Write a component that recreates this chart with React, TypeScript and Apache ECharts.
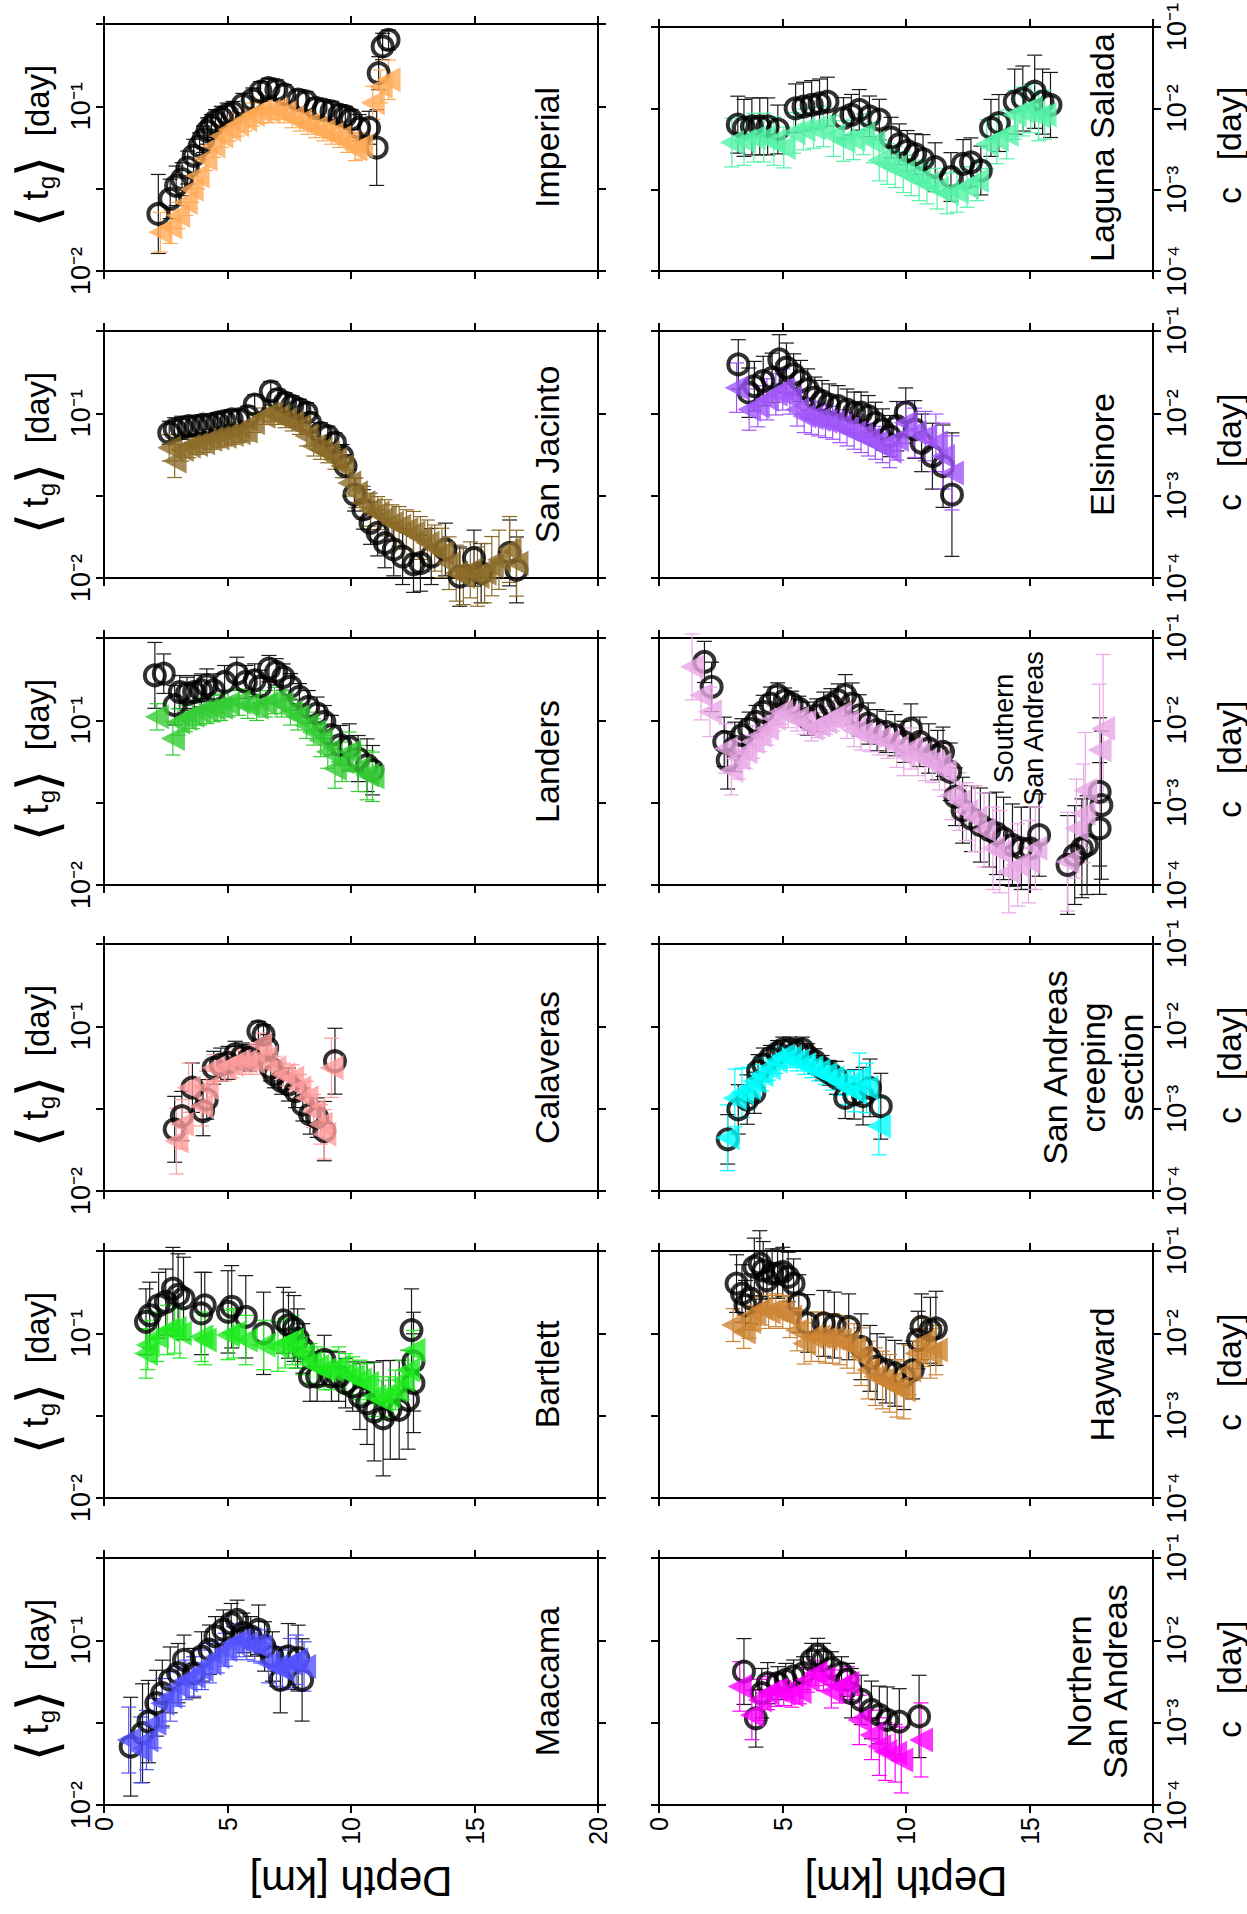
import React, { useEffect, useRef } from 'react';
import * as echarts from 'echarts';

// Each point: [depth (km), value (day), error-bar half width (decades)]
type Pt = [number, number, number];

// ---------------- Left column (⟨tg⟩) ----------------
const imperialCircles: Pt[] = [
  [2.2, 0.0222, 0.24], [2.68, 0.0274, 0.12], [2.92, 0.0329, 0.12], [3.16, 0.0361, 0.1], [3.39, 0.0425, 0.1],
  [3.63, 0.0501, 0.1], [3.87, 0.0574, 0.08], [4.03, 0.0631, 0.08], [4.19, 0.0708, 0.08], [4.35, 0.0759, 0.07],
  [4.51, 0.0813, 0.07], [4.75, 0.0851, 0.07], [4.99, 0.0891, 0.07], [5.23, 0.0912, 0.07], [5.62, 0.102, 0.07],
  [6.02, 0.11, 0.07], [6.34, 0.123, 0.06], [6.66, 0.129, 0.06], [6.98, 0.126, 0.06], [7.3, 0.118, 0.06],
  [7.86, 0.11, 0.06], [8.18, 0.107, 0.06], [8.57, 0.0977, 0.06], [8.89, 0.0955, 0.06], [9.21, 0.0933, 0.06],
  [9.53, 0.0891, 0.06], [9.77, 0.0871, 0.06], [10.0, 0.0832, 0.06], [10.33, 0.0741, 0.08], [10.73, 0.0741, 0.1],
  [11.04, 0.0562, 0.23], [11.12, 0.159, 0.1], [11.28, 0.231, 0.08], [11.52, 0.253, 0.06],
];
const imperialTriangles: Pt[] = [
  [2.28, 0.0172, 0.12], [2.68, 0.0185, 0.1], [3.0, 0.0217, 0.08], [3.31, 0.0261, 0.08], [3.55, 0.0314, 0.08],
  [3.79, 0.0378, 0.08], [4.11, 0.0479, 0.07], [4.43, 0.0575, 0.07], [4.75, 0.0661, 0.07], [5.07, 0.0724, 0.07],
  [5.39, 0.0776, 0.07], [5.71, 0.0832, 0.07], [6.02, 0.0891, 0.07], [6.34, 0.0933, 0.07], [6.66, 0.0933, 0.07],
  [6.98, 0.0955, 0.06], [7.3, 0.0912, 0.06], [7.62, 0.0851, 0.06], [7.94, 0.0813, 0.06], [8.25, 0.0776, 0.06],
  [8.57, 0.0741, 0.06], [8.89, 0.0708, 0.06], [9.21, 0.0676, 0.06], [9.53, 0.0646, 0.06], [9.85, 0.0603, 0.06],
  [10.17, 0.055, 0.07], [10.41, 0.0575, 0.08], [10.88, 0.105, 0.1], [11.2, 0.132, 0.1], [11.52, 0.145, 0.12],
];

const sanJacintoCircles: Pt[] = [
  [2.64, 0.0762, 0.07], [2.86, 0.08, 0.07], [3.15, 0.0817, 0.07], [3.43, 0.0836, 0.06], [3.72, 0.0836, 0.06],
  [4.01, 0.0855, 0.06], [4.3, 0.0855, 0.06], [4.59, 0.0877, 0.06], [4.88, 0.0897, 0.06], [5.17, 0.0918, 0.06],
  [5.45, 0.0918, 0.06], [5.82, 0.0962, 0.06], [6.1, 0.113, 0.06], [6.75, 0.136, 0.06], [7.04, 0.122, 0.06],
  [7.33, 0.116, 0.06], [7.62, 0.111, 0.06], [7.91, 0.106, 0.06], [8.2, 0.101, 0.06], [8.34, 0.0877, 0.06],
  [8.77, 0.0762, 0.06], [9.06, 0.0728, 0.06], [9.35, 0.0663, 0.06], [9.64, 0.055, 0.07], [9.78, 0.0478, 0.07],
  [10.14, 0.0321, 0.1], [10.5, 0.0261, 0.12], [10.79, 0.0216, 0.13], [11.08, 0.0188, 0.14], [11.37, 0.0163, 0.15],
  [11.73, 0.0149, 0.16], [12.09, 0.0135, 0.17], [12.53, 0.0121, 0.17], [12.81, 0.0123, 0.17], [13.25, 0.0135, 0.17],
  [13.82, 0.0149, 0.16], [14.4, 0.0102, 0.18], [14.98, 0.0132, 0.17], [15.27, 0.0107, 0.18], [16.42, 0.0142, 0.2],
  [16.7, 0.0112, 0.2],
];
const sanJacintoTriangles: Pt[] = [
  [2.64, 0.0617, 0.08], [2.86, 0.0513, 0.1], [3.15, 0.0603, 0.07], [3.43, 0.0632, 0.07], [3.72, 0.0647, 0.06],
  [4.01, 0.0663, 0.06], [4.3, 0.0694, 0.06], [4.59, 0.071, 0.06], [4.88, 0.0727, 0.06], [5.17, 0.0744, 0.06],
  [5.45, 0.0762, 0.06], [5.74, 0.078, 0.06], [6.03, 0.0877, 0.06], [6.46, 0.096, 0.05], [6.75, 0.1, 0.05],
  [7.04, 0.096, 0.05], [7.33, 0.0918, 0.05], [7.62, 0.0877, 0.05], [7.91, 0.0836, 0.05], [8.2, 0.0728, 0.06],
  [8.49, 0.0632, 0.06], [8.77, 0.0603, 0.06], [9.06, 0.0575, 0.06], [9.35, 0.0525, 0.06], [9.64, 0.0478, 0.07],
  [9.93, 0.0378, 0.08], [10.2, 0.0329, 0.09], [10.5, 0.0286, 0.1], [10.79, 0.026, 0.1], [11.08, 0.0248, 0.1],
  [11.37, 0.0232, 0.11], [11.66, 0.0216, 0.11], [11.95, 0.0206, 0.12], [12.24, 0.0197, 0.12], [12.53, 0.0188, 0.13],
  [12.81, 0.0175, 0.13], [13.1, 0.0163, 0.14], [13.39, 0.0152, 0.14], [13.68, 0.0142, 0.15], [13.97, 0.0123, 0.16],
  [14.26, 0.0107, 0.17], [14.55, 0.0102, 0.17], [14.83, 0.0112, 0.17], [15.12, 0.0102, 0.18], [15.41, 0.0107, 0.18],
  [15.7, 0.0118, 0.18], [15.99, 0.0129, 0.18], [16.42, 0.0149, 0.2], [16.7, 0.0123, 0.2],
];

const landersCircles: Pt[] = [
  [2.06, 0.1875, 0.2], [2.42, 0.192, 0.12], [2.86, 0.1236, 0.12], [3.07, 0.1486, 0.1], [3.36, 0.145, 0.1],
  [3.65, 0.1486, 0.1], [3.94, 0.152, 0.1], [4.16, 0.163, 0.1], [4.44, 0.152, 0.1], [4.88, 0.171, 0.1],
  [5.38, 0.192, 0.1], [5.74, 0.171, 0.1], [6.1, 0.175, 0.1], [6.32, 0.16, 0.1], [6.68, 0.206, 0.08],
  [6.97, 0.197, 0.08], [7.26, 0.183, 0.08], [7.55, 0.16, 0.08], [7.91, 0.139, 0.08], [8.27, 0.1205, 0.1],
  [8.63, 0.11, 0.1], [8.92, 0.0977, 0.1], [9.21, 0.0813, 0.12], [9.57, 0.0706, 0.12], [9.93, 0.069, 0.14],
  [10.29, 0.0586, 0.14], [10.65, 0.0534, 0.16], [10.87, 0.0498, 0.15],
];
const landersTriangles: Pt[] = [
  [2.14, 0.105, 0.08], [2.79, 0.0775, 0.1], [3.0, 0.0977, 0.08], [3.29, 0.1025, 0.08], [3.58, 0.107, 0.08],
  [3.87, 0.1125, 0.08], [4.16, 0.115, 0.08], [4.44, 0.118, 0.08], [4.73, 0.12, 0.08], [5.02, 0.126, 0.08],
  [5.45, 0.129, 0.08], [5.82, 0.1236, 0.08], [6.18, 0.12, 0.08], [6.54, 0.126, 0.08], [6.9, 0.132, 0.08],
  [7.19, 0.126, 0.08], [7.55, 0.1125, 0.08], [7.84, 0.105, 0.08], [8.2, 0.0933, 0.08], [8.49, 0.085, 0.08],
  [8.77, 0.0757, 0.1], [9.06, 0.0644, 0.1], [9.35, 0.051, 0.12], [9.64, 0.056, 0.12], [9.93, 0.0644, 0.12],
  [10.29, 0.051, 0.14], [10.65, 0.0465, 0.15], [10.87, 0.0454, 0.15],
];

const calaverasCircles: Pt[] = [
  [2.86, 0.0237, 0.2], [3.15, 0.0285, 0.15], [3.58, 0.0424, 0.15], [4.01, 0.0306, 0.15], [4.16, 0.036, 0.12],
  [4.44, 0.056, 0.1], [4.73, 0.0586, 0.1], [5.02, 0.06, 0.1], [5.31, 0.0675, 0.08], [5.6, 0.0659, 0.08],
  [5.89, 0.0644, 0.08], [6.25, 0.0933, 0.06], [6.46, 0.089, 0.06], [6.61, 0.074, 0.08], [6.75, 0.056, 0.08],
  [6.9, 0.0509, 0.08], [7.19, 0.0465, 0.08], [7.47, 0.0443, 0.1], [7.76, 0.0404, 0.1], [8.05, 0.0335, 0.1],
  [8.34, 0.0292, 0.12], [8.63, 0.0279, 0.12], [8.92, 0.0231, 0.18], [9.35, 0.0614, 0.2],
];
const calaverasTriangles: Pt[] = [
  [2.93, 0.0201, 0.2], [3.15, 0.0254, 0.15], [3.43, 0.0424, 0.15], [3.94, 0.0327, 0.12], [4.16, 0.0424, 0.1],
  [4.44, 0.056, 0.08], [4.88, 0.056, 0.08], [5.17, 0.0586, 0.08], [5.45, 0.0614, 0.08], [5.74, 0.0614, 0.08],
  [6.03, 0.0614, 0.08], [6.32, 0.0775, 0.07], [6.54, 0.0644, 0.07], [6.9, 0.056, 0.07], [7.26, 0.0509, 0.07],
  [7.62, 0.0486, 0.08], [7.91, 0.0424, 0.08], [8.2, 0.0368, 0.1], [8.49, 0.0306, 0.1], [8.77, 0.0254, 0.12],
  [8.92, 0.0221, 0.15], [9.21, 0.056, 0.18],
];

const bartlettCircles: Pt[] = [
  [1.7, 0.1175, 0.2], [1.85, 0.129, 0.2], [2.21, 0.148, 0.2], [2.5, 0.155, 0.2], [2.79, 0.187, 0.25],
  [3.0, 0.171, 0.25], [3.22, 0.163, 0.25], [3.94, 0.132, 0.25], [4.08, 0.148, 0.2], [5.02, 0.135, 0.25],
  [5.17, 0.145, 0.25], [5.74, 0.126, 0.25], [6.46, 0.1, 0.25], [7.26, 0.12, 0.2], [7.47, 0.112, 0.2],
  [7.69, 0.107, 0.2], [7.84, 0.093, 0.18], [8.05, 0.081, 0.15], [8.34, 0.0546, 0.15], [8.63, 0.0546, 0.15],
  [8.92, 0.0689, 0.15], [9.21, 0.0546, 0.15], [9.5, 0.0546, 0.15], [9.78, 0.0498, 0.15], [10.07, 0.0475, 0.15],
  [10.36, 0.0413, 0.2], [10.65, 0.0376, 0.25], [10.94, 0.0335, 0.3], [11.3, 0.0305, 0.35], [11.59, 0.0343, 0.3],
  [11.95, 0.0343, 0.3], [12.31, 0.0395, 0.3], [12.53, 0.0498, 0.3], [12.53, 0.0673, 0.3], [12.45, 0.1047, 0.25],
];
const bartlettTriangles: Pt[] = [
  [1.7, 0.0755, 0.15], [1.77, 0.085, 0.15], [2.14, 0.0953, 0.15], [2.57, 0.1047, 0.15], [2.86, 0.107, 0.15],
  [3.07, 0.1, 0.15], [3.94, 0.0953, 0.15], [4.08, 0.091, 0.15], [5.02, 0.0977, 0.15], [5.24, 0.1, 0.15],
  [5.74, 0.091, 0.15], [6.46, 0.085, 0.15], [7.04, 0.083, 0.15], [7.33, 0.087, 0.15], [7.62, 0.091, 0.15],
  [7.76, 0.081, 0.12], [8.05, 0.0738, 0.12], [8.34, 0.0657, 0.12], [8.63, 0.0628, 0.12], [8.92, 0.0599, 0.12],
  [9.21, 0.0599, 0.12], [9.5, 0.0628, 0.12], [9.78, 0.0571, 0.12], [10.07, 0.0546, 0.12], [10.36, 0.0521, 0.12],
  [10.65, 0.0498, 0.12], [10.94, 0.0413, 0.12], [11.23, 0.0394, 0.12], [11.52, 0.0413, 0.12], [11.8, 0.0453, 0.12],
  [12.09, 0.0521, 0.12], [12.31, 0.0599, 0.12], [12.53, 0.079, 0.12],
];

const maacamaCircles: Pt[] = [
  [1.08, 0.0226, 0.3], [1.56, 0.0273, 0.3], [1.8, 0.0321, 0.25], [2.12, 0.0415, 0.2], [2.36, 0.0478, 0.2],
  [2.68, 0.0575, 0.2], [3.0, 0.0632, 0.18], [3.24, 0.0762, 0.15], [3.63, 0.0632, 0.15], [3.95, 0.0798, 0.15],
  [4.27, 0.0877, 0.15], [4.51, 0.1057, 0.12], [4.83, 0.116, 0.12], [5.15, 0.127, 0.12], [5.39, 0.133, 0.12],
  [5.63, 0.111, 0.12], [5.94, 0.1057, 0.12], [6.26, 0.116, 0.15], [6.5, 0.0918, 0.15], [6.82, 0.0798, 0.15],
  [7.14, 0.0575, 0.2], [7.46, 0.0798, 0.2], [7.86, 0.078, 0.2], [8.02, 0.0575, 0.25],
];
const maacamaTriangles: Pt[] = [
  [1.0, 0.0248, 0.2], [1.48, 0.0216, 0.2], [1.72, 0.0248, 0.18], [2.04, 0.0314, 0.15], [2.36, 0.0415, 0.15],
  [2.68, 0.0456, 0.15], [3.0, 0.0525, 0.12], [3.31, 0.0575, 0.12], [3.63, 0.0603, 0.12], [3.95, 0.0662, 0.12],
  [4.27, 0.0727, 0.12], [4.59, 0.0798, 0.1], [4.91, 0.0877, 0.1], [5.23, 0.096, 0.1], [5.47, 0.1, 0.1],
  [5.78, 0.096, 0.1], [6.1, 0.094, 0.1], [6.34, 0.0918, 0.1], [6.66, 0.0727, 0.12], [6.98, 0.0694, 0.12],
  [7.22, 0.0662, 0.12], [7.54, 0.0727, 0.15], [7.78, 0.0762, 0.15], [8.1, 0.0694, 0.15],
];

// ---------------- Right column (c) ----------------
const lagunaCircles: Pt[] = [
  [3.19, 0.0063, 0.35], [3.44, 0.00575, 0.35], [3.76, 0.006, 0.35], [4.08, 0.006, 0.35], [4.4, 0.006, 0.35],
  [4.81, 0.0055, 0.3], [5.53, 0.01, 0.3], [5.85, 0.0105, 0.3], [6.18, 0.011, 0.3], [6.5, 0.0115, 0.3],
  [6.82, 0.0121, 0.3], [7.47, 0.0076, 0.25], [7.79, 0.00834, 0.25], [8.11, 0.00957, 0.25], [8.52, 0.00797, 0.25],
  [8.92, 0.00726, 0.25], [9.4, 0.00436, 0.25], [9.73, 0.00362, 0.25], [10.05, 0.003, 0.25], [10.37, 0.00274, 0.25],
  [10.69, 0.00238, 0.3], [11.18, 0.00189, 0.3], [11.82, 0.00143, 0.3], [12.31, 0.00207, 0.3], [12.63, 0.00217, 0.3],
  [13.03, 0.00172, 0.3], [13.44, 0.00575, 0.35], [13.76, 0.0066, 0.35], [14.4, 0.0121, 0.4], [14.73, 0.0132, 0.4],
  [15.21, 0.016, 0.45], [15.53, 0.0121, 0.4], [15.85, 0.011, 0.4],
];
const lagunaTriangles: Pt[] = [
  [2.95, 0.0038, 0.3], [3.44, 0.00397, 0.3], [3.84, 0.00436, 0.3], [4.24, 0.00436, 0.3], [4.65, 0.00397, 0.3],
  [5.05, 0.0033, 0.25], [5.45, 0.005, 0.25], [5.85, 0.0055, 0.25], [6.26, 0.00575, 0.25], [6.66, 0.006, 0.25],
  [7.06, 0.00456, 0.25], [7.47, 0.00397, 0.25], [7.87, 0.00416, 0.25], [8.27, 0.00478, 0.25], [8.68, 0.0038, 0.25],
  [8.92, 0.00228, 0.25], [9.24, 0.00207, 0.25], [9.56, 0.00189, 0.25], [9.89, 0.00164, 0.25], [10.21, 0.0015, 0.25],
  [10.53, 0.0013, 0.25], [10.85, 0.00119, 0.25], [11.26, 0.00103, 0.25], [11.66, 0.0009, 0.25], [12.06, 0.00094, 0.25],
  [12.47, 0.00108, 0.25], [12.87, 0.0013, 0.25], [13.27, 0.00362, 0.3], [13.68, 0.00416, 0.3], [14.08, 0.00478, 0.3],
  [14.4, 0.00834, 0.3], [14.73, 0.00914, 0.3], [15.05, 0.01, 0.3], [15.37, 0.00797, 0.3], [15.61, 0.00834, 0.3],
];

const elsinoreCircles: Pt[] = [
  [3.21, 0.0393, 0.3], [3.64, 0.0178, 0.3], [3.86, 0.0214, 0.3], [4.22, 0.0247, 0.3], [4.58, 0.027, 0.3],
  [4.87, 0.0452, 0.3], [5.16, 0.0358, 0.3], [5.45, 0.0297, 0.25], [5.73, 0.0247, 0.25], [6.02, 0.0195, 0.25],
  [6.31, 0.0155, 0.25], [6.6, 0.0141, 0.25], [6.89, 0.0128, 0.25], [7.25, 0.0122, 0.25], [7.61, 0.0111, 0.25],
  [7.9, 0.0102, 0.25], [8.18, 0.0102, 0.25], [8.47, 0.00925, 0.25], [8.76, 0.00767, 0.25], [9.05, 0.00637, 0.25],
  [9.34, 0.00529, 0.25], [9.63, 0.00698, 0.3], [9.99, 0.0102, 0.3], [10.35, 0.00637, 0.35], [10.63, 0.00438, 0.35],
  [11.07, 0.00302, 0.4], [11.5, 0.00228, 0.5], [11.86, 0.00103, 0.75],
];
const elsinoreTriangles: Pt[] = [
  [3.14, 0.0205, 0.3], [3.65, 0.0111, 0.25], [4.0, 0.0122, 0.25], [4.37, 0.0148, 0.25], [4.73, 0.017, 0.25],
  [5.01, 0.0195, 0.25], [5.3, 0.0155, 0.2], [5.59, 0.0111, 0.2], [5.88, 0.00925, 0.2], [6.17, 0.00883, 0.2],
  [6.46, 0.00843, 0.2], [6.74, 0.00804, 0.2], [7.03, 0.00767, 0.2], [7.32, 0.00698, 0.2], [7.61, 0.00637, 0.2],
  [7.9, 0.0058, 0.2], [8.18, 0.00529, 0.2], [8.47, 0.00481, 0.2], [8.76, 0.00438, 0.2], [9.05, 0.00399, 0.2],
  [9.34, 0.00347, 0.2], [9.63, 0.00481, 0.25], [9.99, 0.00767, 0.25], [10.35, 0.0058, 0.3], [10.78, 0.00529, 0.3],
  [11.21, 0.00438, 0.35], [11.5, 0.00302, 0.4], [11.86, 0.00189, 0.45],
];

const southernCircles: Pt[] = [
  [1.84, 0.0512, 0.25], [2.13, 0.0255, 0.3], [2.64, 0.00548, 0.3], [2.78, 0.00328, 0.35], [3.07, 0.00476, 0.3],
  [3.36, 0.0066, 0.2], [3.65, 0.00794, 0.2], [3.93, 0.00957, 0.2], [4.22, 0.0127, 0.2], [4.51, 0.016, 0.2],
  [4.8, 0.0202, 0.15], [5.09, 0.0175, 0.15], [5.37, 0.016, 0.15], [5.66, 0.0139, 0.15], [6.02, 0.0105, 0.2],
  [6.38, 0.0115, 0.2], [6.67, 0.0139, 0.2], [6.96, 0.0153, 0.2], [7.25, 0.0175, 0.2], [7.54, 0.0202, 0.25],
  [7.82, 0.016, 0.25], [8.11, 0.0115, 0.25], [8.47, 0.00914, 0.25], [8.83, 0.00759, 0.25], [9.19, 0.00724, 0.25],
  [9.55, 0.0066, 0.25], [9.91, 0.00548, 0.25], [10.2, 0.00794, 0.3], [10.56, 0.00548, 0.3], [10.92, 0.00455, 0.3],
  [11.28, 0.00378, 0.3], [11.5, 0.00415, 0.3], [11.79, 0.00237, 0.35], [12.0, 0.00118, 0.35], [12.29, 0.00081, 0.4],
  [12.65, 0.00064, 0.4], [13.01, 0.000535, 0.45], [13.37, 0.000465, 0.45], [13.66, 0.000424, 0.5], [13.95, 0.000368, 0.5],
  [14.31, 0.000305, 0.5], [14.67, 0.000279, 0.5], [15.03, 0.000279, 0.5], [15.39, 0.000404, 0.5], [16.54, 0.000175, 0.6],
  [16.83, 0.000231, 0.6], [17.12, 0.000279, 0.6], [17.33, 0.000305, 0.6], [17.84, 0.000486, 0.8], [17.91, 0.000933, 0.9],
  [17.84, 0.00135, 0.9],
];
const southernTriangles: Pt[] = [
  [1.34, 0.0446, 0.4], [1.7, 0.0202, 0.3], [2.06, 0.0127, 0.3], [2.71, 0.00455, 0.3], [2.93, 0.00248, 0.3],
  [3.21, 0.00344, 0.25], [3.5, 0.00415, 0.2], [3.79, 0.00548, 0.2], [4.08, 0.0066, 0.2], [4.37, 0.00794, 0.2],
  [4.65, 0.0105, 0.15], [4.94, 0.0127, 0.15], [5.23, 0.0115, 0.15], [5.59, 0.0105, 0.15], [5.88, 0.00957, 0.15],
  [6.17, 0.00794, 0.15], [6.46, 0.00873, 0.15], [6.74, 0.00957, 0.15], [7.03, 0.0105, 0.15], [7.32, 0.0121, 0.15],
  [7.61, 0.00957, 0.2], [7.9, 0.00759, 0.2], [8.18, 0.00692, 0.2], [8.54, 0.0066, 0.2], [8.9, 0.00601, 0.2],
  [9.27, 0.00548, 0.2], [9.63, 0.00476, 0.25], [9.91, 0.00378, 0.25], [10.2, 0.00455, 0.25], [10.49, 0.00378, 0.25],
  [10.78, 0.00328, 0.25], [11.07, 0.00313, 0.25], [11.35, 0.00286, 0.3], [11.57, 0.00237, 0.3], [11.86, 0.00124, 0.3],
  [12.15, 0.00103, 0.35], [12.44, 0.00078, 0.35], [12.8, 0.00064, 0.4], [13.16, 0.000465, 0.45], [13.52, 0.000279, 0.5],
  [13.8, 0.000254, 0.5], [14.16, 0.000145, 0.5], [14.52, 0.000175, 0.5], [14.96, 0.000192, 0.5], [15.24, 0.000279, 0.5],
  [16.54, 0.000192, 0.6], [16.9, 0.000486, 0.6], [17.19, 0.00074, 0.6], [17.26, 0.00142, 0.7], [17.84, 0.00435, 0.8],
  [17.98, 0.00794, 0.9],
];

const creepingCircles: Pt[] = [
  [2.78, 0.000424, 0.3], [3.21, 0.00098, 0.3], [3.57, 0.00129, 0.3], [3.86, 0.00156, 0.25], [4.01, 0.00286, 0.2],
  [4.22, 0.00344, 0.2], [4.51, 0.00415, 0.15], [4.8, 0.00476, 0.15], [5.01, 0.00524, 0.15], [5.3, 0.00524, 0.15],
  [5.59, 0.005, 0.15], [5.81, 0.00524, 0.15], [6.02, 0.00435, 0.15], [6.31, 0.00378, 0.15], [6.6, 0.00313, 0.15],
  [6.89, 0.00273, 0.15], [7.18, 0.00237, 0.2], [7.54, 0.00135, 0.25], [7.9, 0.00149, 0.3], [8.26, 0.00142, 0.35],
  [8.54, 0.00179, 0.35], [8.98, 0.00107, 0.4],
];
const creepingTriangles: Pt[] = [
  [2.78, 0.000443, 0.4], [3.07, 0.00135, 0.35], [3.36, 0.00156, 0.3], [3.65, 0.00179, 0.25], [3.86, 0.00216, 0.2],
  [4.15, 0.0026, 0.2], [4.44, 0.00313, 0.15], [4.73, 0.00378, 0.15], [5.01, 0.00435, 0.12], [5.3, 0.00415, 0.12],
  [5.59, 0.00378, 0.12], [5.88, 0.00344, 0.12], [6.17, 0.00313, 0.12], [6.46, 0.00286, 0.12], [6.74, 0.0026, 0.12],
  [7.03, 0.00237, 0.15], [7.32, 0.00206, 0.15], [7.61, 0.00179, 0.2], [7.9, 0.00163, 0.25], [8.11, 0.00237, 0.3],
  [8.4, 0.00179, 0.3], [8.9, 0.000615, 0.35],
];

const haywardCircles: Pt[] = [
  [3.14, 0.0402, 0.35], [3.36, 0.0304, 0.35], [3.5, 0.022, 0.3], [3.72, 0.0264, 0.3], [3.86, 0.064, 0.35],
  [4.08, 0.0702, 0.4], [4.22, 0.0582, 0.35], [4.37, 0.0441, 0.35], [4.58, 0.0531, 0.3], [4.8, 0.0531, 0.3],
  [5.01, 0.0556, 0.3], [5.23, 0.0484, 0.3], [5.45, 0.0402, 0.3], [5.66, 0.023, 0.35], [6.02, 0.0132, 0.35],
  [6.67, 0.0132, 0.4], [7.1, 0.0126, 0.4], [7.68, 0.012, 0.4], [8.18, 0.00687, 0.4], [8.54, 0.00496, 0.4],
  [8.83, 0.00394, 0.4], [9.19, 0.00358, 0.4], [9.55, 0.00327, 0.4], [9.91, 0.00298, 0.4], [10.27, 0.00358, 0.35],
  [10.49, 0.00828, 0.35], [10.63, 0.012, 0.4], [10.99, 0.0109, 0.4], [11.21, 0.0115, 0.45],
];
const haywardTriangles: Pt[] = [
  [3.0, 0.0126, 0.2], [3.43, 0.0104, 0.2], [3.65, 0.0138, 0.2], [3.86, 0.0174, 0.2], [4.15, 0.02, 0.2],
  [4.44, 0.0182, 0.2], [4.73, 0.0191, 0.2], [5.01, 0.0182, 0.2], [5.3, 0.0158, 0.25], [5.59, 0.0109, 0.25],
  [5.88, 0.00753, 0.25], [6.17, 0.00908, 0.3], [6.46, 0.00908, 0.3], [6.74, 0.00867, 0.3], [7.03, 0.00867, 0.3],
  [7.32, 0.00828, 0.3], [7.61, 0.00753, 0.3], [7.9, 0.00656, 0.3], [8.18, 0.0052, 0.35], [8.47, 0.00358, 0.35],
  [8.76, 0.00298, 0.35], [9.05, 0.00271, 0.35], [9.34, 0.00247, 0.35], [9.63, 0.00215, 0.35], [9.91, 0.00205, 0.35],
  [10.13, 0.00358, 0.3], [10.42, 0.0057, 0.3], [10.71, 0.00789, 0.3], [10.99, 0.0057, 0.3], [11.21, 0.00626, 0.3],
];

const northernCircles: Pt[] = [
  [3.44, 0.00418, 0.4], [3.92, 0.00113, 0.35], [4.16, 0.00228, 0.3], [4.4, 0.00302, 0.25], [4.81, 0.00302, 0.2],
  [5.13, 0.00331, 0.2], [5.45, 0.00364, 0.2], [5.85, 0.00399, 0.2], [6.18, 0.0058, 0.2], [6.42, 0.00667, 0.2],
  [6.66, 0.0058, 0.2], [6.98, 0.00459, 0.2], [7.39, 0.00399, 0.2], [7.63, 0.00331, 0.2], [7.79, 0.00228, 0.3],
  [8.19, 0.00189, 0.3], [8.6, 0.00143, 0.35], [8.92, 0.00124, 0.35], [9.24, 0.00108, 0.4], [9.73, 0.00103, 0.4],
  [10.53, 0.00119, 0.5],
];
const northernTriangles: Pt[] = [
  [3.27, 0.00275, 0.3], [3.76, 0.00124, 0.3], [4.08, 0.00189, 0.25], [4.4, 0.00228, 0.2], [4.73, 0.0025, 0.2],
  [5.05, 0.00228, 0.15], [5.37, 0.00218, 0.15], [5.69, 0.00239, 0.15], [6.02, 0.00331, 0.15], [6.34, 0.00399, 0.15],
  [6.66, 0.00347, 0.15], [6.98, 0.00239, 0.2], [7.31, 0.00275, 0.2], [7.63, 0.00302, 0.2], [8.11, 0.00108, 0.3],
  [8.6, 0.00071, 0.3], [8.92, 0.000512, 0.35], [9.16, 0.000446, 0.35], [9.56, 0.000425, 0.35], [9.81, 0.000352, 0.4],
  [10.61, 0.000617, 0.45],
];

// Axis ticks (log10 of day)
const depthTicks = { min: 0, max: 20, interval: 5 };
const tgTicks = { min: -2, max: -0.5, interval: 0.5 };
const cTicks = { min: -4, max: -1, interval: 1 };

interface Panel {
  label: string;
  col: number;
  row: number;
  color: string;
  circles: Pt[];
  triangles: Pt[];
}

const panels: Panel[] = [
  { label: 'Imperial', col: 0, row: 0, color: '#FFAA55', circles: imperialCircles, triangles: imperialTriangles },
  { label: 'San Jacinto', col: 0, row: 1, color: '#8C6B28', circles: sanJacintoCircles, triangles: sanJacintoTriangles },
  { label: 'Landers', col: 0, row: 2, color: '#33CC33', circles: landersCircles, triangles: landersTriangles },
  { label: 'Calaveras', col: 0, row: 3, color: '#FF9C9C', circles: calaverasCircles, triangles: calaverasTriangles },
  { label: 'Bartlett', col: 0, row: 4, color: '#1EEB1E', circles: bartlettCircles, triangles: bartlettTriangles },
  { label: 'Maacama', col: 0, row: 5, color: '#5252FF', circles: maacamaCircles, triangles: maacamaTriangles },
  { label: 'Laguna Salada', col: 1, row: 0, color: '#55F2A8', circles: lagunaCircles, triangles: lagunaTriangles },
  { label: 'Elsinore', col: 1, row: 1, color: '#A055FA', circles: elsinoreCircles, triangles: elsinoreTriangles },
  { label: 'Southern\nSan Andreas', col: 1, row: 2, color: '#E8A8E6', circles: southernCircles, triangles: southernTriangles },
  { label: 'San Andreas\ncreeping\nsection', col: 1, row: 3, color: '#00FFFF', circles: creepingCircles, triangles: creepingTriangles },
  { label: 'Hayward', col: 1, row: 4, color: '#CD8535', circles: haywardCircles, triangles: haywardTriangles },
  { label: 'Northern\nSan Andreas', col: 1, row: 5, color: '#FF00FF', circles: northernCircles, triangles: northernTriangles },
];

// Layout (px)
const FONT = '"Liberation Sans", Arial, Helvetica, sans-serif';
const COL_LEFT = [104, 659];
const ROW_TOP = [24, 331, 638, 944, 1251, 1558];
const GRID_W = 494;
const GRID_H = 247;

const labelPos: Record<string, { x: number; dy: number; size: number; lh: number }> = {
  'Southern\nSan Andreas': { x: 1019, dy: -33, size: 27, lh: 30 },
  'San Andreas\ncreeping\nsection': { x: 1093, dy: 0, size: 34, lh: 38 },
  'Northern\nSan Andreas': { x: 1097, dy: 0, size: 34, lh: 36 },
};

const SUP: Record<string, string> = { '0': '\u2070', '1': '\u00B9', '2': '\u00B2', '3': '\u00B3', '4': '\u2074', '5': '\u2075' };
function expLabel(v: number): string {
  const k = Math.round(v * 2) / 2;
  if (Math.abs(k - Math.round(k)) > 1e-6) return '';
  const n = Math.round(k);
  return '10' + (n < 0 ? '\u207B' : '') + SUP[String(Math.abs(n))];
}

const errRender = (color: string) => (_params: any, api: any) => {
  const x = api.value(0);
  const a = api.coord([x, api.value(1)]);
  const b = api.coord([x, api.value(2)]);
  const h = 7.5;
  const style = { stroke: color, lineWidth: 1.2, fill: null };
  return {
    type: 'group',
    children: [
      { type: 'line', shape: { x1: a[0], y1: a[1], x2: b[0], y2: b[1] }, style },
      { type: 'line', shape: { x1: a[0] - h, y1: a[1], x2: a[0] + h, y2: a[1] }, style },
      { type: 'line', shape: { x1: b[0] - h, y1: b[1], x2: b[0] + h, y2: b[1] }, style },
    ],
  };
};

function txt(text: string, x: number, y: number, size: number, family = FONT) {
  return {
    type: 'text', x, y, silent: true,
    style: {
      text, fill: '#000', fontSize: size, fontFamily: family,
      textAlign: 'center', textVerticalAlign: 'middle', align: 'center', verticalAlign: 'middle',
    },
  };
}

function buildOption() {
  const grid: any[] = [];
  const xAxis: any[] = [];
  const yAxis: any[] = [];
  const series: any[] = [];
  const graphic: any[] = [];

  const axisLine = { show: true, onZero: false, lineStyle: { color: '#000', width: 2 } };
  const axisTick = { show: true, inside: false, length: 8, lineStyle: { color: '#000', width: 2 } };
  const yLabel = { rotate: 90, margin: 10, formatter: expLabel, fontSize: 27, fontFamily: FONT, color: '#000', showMinLabel: true, showMaxLabel: true };

  panels.forEach((p, i) => {
    const left = COL_LEFT[p.col];
    const top = ROW_TOP[p.row];
    const cy = top + GRID_H / 2;
    grid.push({ left, top, width: GRID_W, height: GRID_H, show: false, containLabel: false });
    const isBottom = p.row === 5;
    const yt = p.col === 0 ? tgTicks : cTicks;

    xAxis.push({
      type: 'value', gridIndex: i, position: 'bottom', ...depthTicks,
      axisLine, axisTick, splitLine: { show: false },
      axisLabel: { show: isBottom, rotate: 90, fontSize: 25, fontFamily: FONT, color: '#000', margin: 12, showMinLabel: true, showMaxLabel: true },
      name: isBottom ? 'Depth [km]' : '', nameLocation: 'middle', nameRotate: 180, nameGap: 55,
      nameTextStyle: { fontSize: 42, fontFamily: FONT, color: '#000' },
    });
    xAxis.push({
      type: 'value', gridIndex: i, position: 'top', ...depthTicks,
      axisLine, axisTick, splitLine: { show: false }, axisLabel: { show: false },
    });
    yAxis.push({
      type: 'value', gridIndex: i, position: 'left', ...yt,
      axisLine, axisTick, splitLine: { show: false },
      axisLabel: { ...yLabel, show: p.col === 0 },
    });
    yAxis.push({
      type: 'value', gridIndex: i, position: 'right', ...yt,
      axisLine, axisTick, splitLine: { show: false },
      axisLabel: { ...yLabel, show: p.col === 1 },
    });

    const xi = i * 2;
    const yi = i * 2;
    const bars = (pts: Pt[]) => pts.map(([d, v, e]) => [d, Math.log10(v) - e, Math.log10(v) + e]);
    const pts = (arr: Pt[]) => arr.map(([d, v]) => [d, Math.log10(v)]);

    series.push({
      type: 'custom', xAxisIndex: xi, yAxisIndex: yi, renderItem: errRender('#1a1a1a'),
      data: bars(p.circles), encode: { x: 0, y: [1, 2] }, silent: true, clip: false,
    });
    series.push({
      type: 'scatter', xAxisIndex: xi, yAxisIndex: yi, data: pts(p.circles), symbol: 'circle', symbolSize: 20,
      itemStyle: { color: 'rgba(0,0,0,0)', borderColor: '#000', borderWidth: 4 }, silent: true, clip: false,
    });
    series.push({
      type: 'custom', xAxisIndex: xi, yAxisIndex: yi, renderItem: errRender(p.color),
      data: bars(p.triangles), encode: { x: 0, y: [1, 2] }, silent: true, clip: false,
    });
    series.push({
      type: 'scatter', xAxisIndex: xi, yAxisIndex: yi, data: pts(p.triangles), symbol: 'triangle',
      symbolSize: [25, 24], symbolRotate: 90, itemStyle: { color: p.color }, silent: true, clip: false,
    });

    // panel label
    const lp = labelPos[p.label];
    const x = lp ? lp.x : p.col === 0 ? 547 : 1102;
    graphic.push({
      type: 'text', x, y: cy + (lp ? lp.dy : 0), rotation: Math.PI / 2, silent: true, z: 100,
      style: {
        text: p.label, fill: '#000', fontSize: lp ? lp.size : 34, fontFamily: FONT,
        lineHeight: lp ? lp.lh : 40,
        textAlign: 'center', textVerticalAlign: 'middle', align: 'center', verticalAlign: 'middle',
      },
    });

    // axis titles (rotated, reading bottom-to-top)
    if (p.col === 0) {
      graphic.push({
        type: 'group', x: 37, y: cy, rotation: Math.PI / 2, silent: true,
        children: [
          txt('\u27E8', -69, 0, 56, '"DejaVu Sans", sans-serif'),
          txt('t', -48, -2, 36),
          txt('g', -35, 9, 24),
          txt('\u27E9', -19, 0, 56, '"DejaVu Sans", sans-serif'),
          txt('[day]', 47, 0, 33),
        ],
      });
    } else {
      graphic.push({
        type: 'group', x: 1229, y: cy, rotation: Math.PI / 2, silent: true,
        children: [
          txt('c', -48, 0, 34),
          txt('[day]', 24, 0, 34),
        ],
      });
    }
  });

  return {
    animation: false,
    backgroundColor: '#fff',
    grid, xAxis, yAxis, series, graphic,
  };
}

export default function App() {
  const ref = useRef<HTMLDivElement>(null);
  useEffect(() => {
    document.body.style.margin = '0';
    const chart = echarts.init(ref.current!, null, { renderer: 'svg' });
    chart.setOption(buildOption() as any);
    return () => chart.dispose();
  }, []);
  return <div ref={ref} style={{ width: 1247, height: 1914, background: '#fff' }} />;
}
